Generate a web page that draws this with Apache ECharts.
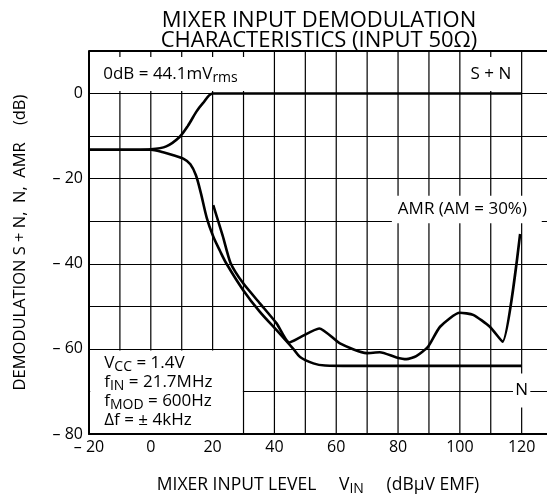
<!DOCTYPE html>
<html><head><meta charset="utf-8">
<script src="https://cdn.jsdelivr.net/npm/echarts@6/dist/echarts.min.js"></script>
<style>html,body{margin:0;padding:0;background:#fff}#c{width:547px;height:500px}</style>
</head><body><div id="c"></div>
<script>
// Data
var snData = [[-20,-13.2],[-5,-13.2],[0,-13.1],[5,-12.4],[9.3,-10.2],[12,-7.6],[14.7,-4.3],[16.8,-2.3],[20,0],[30,0],[120,0]];
var nData = [[-20,-13.2],[-5,-13.2],[0,-13.2],[4,-13.8],[7.3,-14.5],[10.5,-15.3],[12.8,-16.6],[14.6,-19.2],[16.2,-23.4],[18.1,-29.2],[20.2,-33.6],[22.4,-37],[24.5,-40],[29.9,-46.2],[35.3,-51.3],[40.7,-55.6],[46.1,-60],[48.3,-61.9],[52.6,-63.4],[56.4,-63.9],[65,-64],[120,-64]];
var amrData = [[20.2,-26.2],[23.3,-33.5],[25.8,-39.8],[29.9,-44.6],[35.3,-49.3],[40.7,-54],[44.8,-58.5],[48.3,-57.3],[54.5,-55.2],[61.2,-58.7],[69.8,-61],[74.1,-60.8],[79.5,-62],[82.7,-62.4],[85.9,-61.7],[89.7,-59.5],[93.6,-54.8],[100,-51.5],[104.3,-52],[109.7,-54.8],[113.8,-58.3],[119.5,-33]];
var xTickLabels = [-20,0,20,40,60,80,100,120];
var xGridValues = [-10,0,10,20,30,40,50,60,70,80,90,100,110,120];
var yTickLabels = [0,-20,-40,-60,-80];
var xMin = -20, xMax = 128.2, yMin = -80, yMax = 10;

var FONT = 'Open Sans';
function fmt(v){ return v < 0 ? '\u2013 ' + Math.abs(v) : String(v); }
function richSet(size, sub, lh){
  return {
    n: {fontFamily: FONT, fontSize: size, color: '#000', lineHeight: lh},
    s: {fontFamily: FONT, fontSize: sub, color: '#000', padding: [8,0,0,0], lineHeight: lh}
  };
}
var annFont = {fontFamily: FONT, fontSize: 17, color: '#000'};

// Note boxes (white background behind the chart notes), in data units
var boxes = [
  {x1: -19.6, y1: 8.6, x2: 38.5, y2: 0.6, label: {show: true, position: 'insideLeft', offset: [8, 0],
      formatter: '{n|0dB = 44.1mV}{s|rms}', rich: richSet(17, 14)}},
  {x1: 100.3, y1: 8.6, x2: 119.8, y2: 0.6, label: Object.assign({show: true, position: 'inside', formatter: 'S + N'}, annFont)},
  {x1: 78, y1: -24, x2: 126.5, y2: -30.5, label: Object.assign({show: true, position: 'insideLeft', offset: [1, 0], formatter: 'AMR (AM = 30%)'}, annFont)},
  {x1: 117.2, y1: -65.8, x2: 122.8, y2: -73.8, label: Object.assign({show: true, position: 'inside', formatter: 'N'}, annFont)},
  {x1: -19.6, y1: -60.4, x2: 29.8, y2: -79.6, label: {show: true, position: 'insideLeft', offset: [9, 0],
      formatter: ['{n|V}{s|CC}{n| = 1.4V}', '{n|f}{s|IN}{n| = 21.7MHz}', '{n|f}{s|MOD}{n| = 600Hz}', '{n|\u0394f = \u00B1 4kHz}'].join('\n'),
      lineHeight: 19, rich: richSet(17, 14, 19)}}
];

// vertical grid lines as one broken polyline, interrupted where a note box sits
var vGrid = [];
xGridValues.forEach(function(v){
  var segs = [[yMin, yMax]];
  boxes.forEach(function(b){
    if (v > b.x1 && v < b.x2) {
      var out = [];
      segs.forEach(function(s){
        if (b.y2 > s[0]) out.push([s[0], Math.min(s[1], b.y2)]);
        if (b.y1 < s[1]) out.push([Math.max(s[0], b.y1), s[1]]);
      });
      segs = out;
    }
  });
  segs.forEach(function(s){
    if (s[1] - s[0] > 0.5) { vGrid.push([v, s[0]]); vGrid.push([v, s[1]]); vGrid.push([v, '-']); }
  });
});

var chart = echarts.init(document.getElementById('c'));
var lineStyle = {color: '#000', width: 2.6};
chart.setOption({
  animation: false,
  backgroundColor: '#fff',
  textStyle: {fontFamily: FONT},
  title: {
    text: 'MIXER INPUT DEMODULATION\nCHARACTERISTICS (INPUT 50\u03A9)',
    left: 314, top: 6, textAlign: 'center',
    textStyle: {fontFamily: FONT, fontSize: 22, fontWeight: 'normal', color: '#000', lineHeight: 20}
  },
  grid: {left: 89, right: 0, top: 51, bottom: 66, outerBoundsMode: 'none', containLabel: false},
  xAxis: {
    type: 'value', min: xMin, max: xMax, interval: 10,
    name: '{n|MIXER INPUT LEVEL     V}{s|IN}{n|     (dB\u03BCV EMF)}',
    nameLocation: 'middle', nameGap: 40,
    nameTextStyle: {rich: richSet(17.5, 14)},
    axisLine: {show: true, onZero: false, lineStyle: {color: '#000', width: 2}},
    axisTick: {show: false},
    axisLabel: {margin: 5, fontSize: 16, color: '#000', fontFamily: FONT, showMaxLabel: false,
      formatter: function(v){ return xTickLabels.indexOf(v) >= 0 ? fmt(v) : ''; }},
    splitLine: {show: false}
  },
  yAxis: {
    type: 'value', min: yMin, max: yMax, interval: 10,
    name: 'DEMODULATION S + N,  N,  AMR    (dB)',
    nameLocation: 'middle', nameGap: 60, nameRotate: 90,
    nameTextStyle: {fontFamily: FONT, fontSize: 16.5, color: '#000'},
    axisLine: {show: true, onZero: false, lineStyle: {color: '#000', width: 2}},
    axisTick: {show: false},
    axisLabel: {margin: 6, fontSize: 16, color: '#000', fontFamily: FONT,
      formatter: function(v){ return yTickLabels.indexOf(v) >= 0 ? fmt(v) : ''; }},
    splitLine: {show: true, lineStyle: {color: '#000', width: 1}}
  },
  series: [
    {type: 'line', name: 'vgrid', data: vGrid, z: 1, silent: true, symbol: 'none', showSymbol: false,
      connectNulls: false, clip: false, lineStyle: {color: '#000', width: 1.2},
      markLine: {silent: true, symbol: 'none', label: {show: false}, animation: false,
        lineStyle: {color: '#000', width: 2, type: 'solid'}, data: [{yAxis: yMax}]}},
    {type: 'line', name: 'notes', data: [], z: 3,
      markArea: {
        silent: true,
        itemStyle: {color: '#fff', borderWidth: 0},
        data: boxes.map(function(b){ return [{coord: [b.x1, b.y1], label: b.label}, {coord: [b.x2, b.y2]}]; })
      }
    },
    {type: 'line', name: 'S+N', data: snData, smooth: 0.3, symbol: 'none', lineStyle: lineStyle, z: 5},
    {type: 'line', name: 'N', data: nData, smooth: 0.3, symbol: 'none', lineStyle: lineStyle, z: 5},
    {type: 'line', name: 'AMR', data: amrData, smooth: 0.2, symbol: 'none', lineStyle: lineStyle, z: 5}
  ]
});
</script></body></html>
